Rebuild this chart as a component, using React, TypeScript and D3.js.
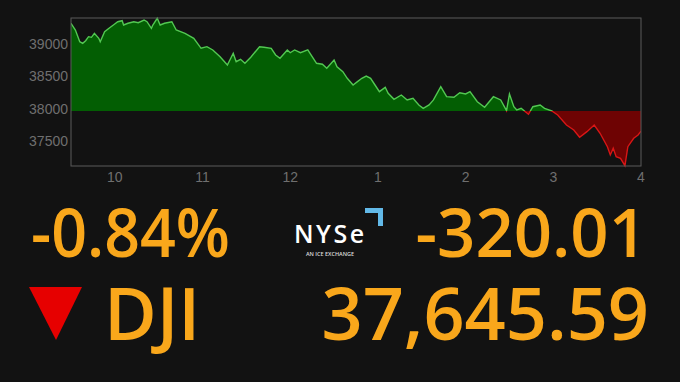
import React from "react";
import * as d3 from "d3";

// minutes after 9:30 open
const minutes = [0,3,6,8,10,12,14,16,19,20,23,26,29,32,35,36,39,43,46,50,52,55,56,59,61,64,69,72,78,84,89,93,97,102,107,111,113,116,119,123,129,132,137,140,143,148,150,153,157,162,165,168,172,175,180,182,186,189,193,196,199,202,205,208,211,215,217,221,226,230,234,238,241,245,248,253,257,262,266,270,273,278,283,289,294,298,300,303,305,308,313,316,321,324,329,333,339,344,348,353,358,362,367,369,371,373,376,379,381,385,388,390];
const values = [39331,39226,39044,39019,39059,39122,39112,39175,39097,39044,39200,39253,39304,39355,39371,39304,39331,39355,39340,39382,39355,39253,39304,39408,39304,39331,39355,39226,39175,39097,38941,38966,38915,38810,38681,38863,38732,38770,38707,38801,38966,38957,38941,38837,38785,38915,38872,38915,38872,38915,38810,38707,38692,38629,38759,38654,38576,38474,38369,38421,38474,38509,38474,38369,38265,38333,38240,38146,38213,38136,38162,38058,38006,38058,38136,38343,38187,38178,38249,38229,38265,38109,38022,38187,38136,37969,38229,38031,37980,38006,37913,38031,38058,38006,37964,37902,37746,37668,37554,37642,37746,37617,37408,37279,37383,37252,37227,37112,37408,37539,37590,37650];
const prevClose = 37965.6;
const yTicks = [37500, 38000, 38500, 39000];
const xTickMinutes = [30, 90, 150, 210, 270, 330, 390];
const xTickLabels = ["10", "11", "12", "1", "2", "3", "4"];
const pctChange = "-0.84%";
const ptsChange = "-320.01";
const symbol = "DJI";
const lastPrice = "37,645.59";

export default function App() {
  const W = 680, H = 382;
  const L = 71, R = 641, T = 18, B = 166;
  const x = d3.scaleLinear().domain([0, 390]).range([L, R]);
  const y = d3.scaleLinear().domain([37107, 39413]).range([B, T]);
  const data = minutes.map((m, i) => ({ m, v: values[i] }));
  const yb = y(prevClose);
  const area = d3.area<{ m: number; v: number }>().x(d => x(d.m)).y0(yb).y1(d => y(d.v));
  const line = d3.line<{ m: number; v: number }>().x(d => x(d.m)).y(d => y(d.v));
  const orange = "#f9a71b";
  const font = "'Open Sans', 'Noto Sans', sans-serif";
  return (
    <svg width={W} height={H} style={{ position: "absolute", left: 0, top: 0, background: "#121212" }}>
      <defs>
        <clipPath id="above"><rect x={L} y={0} width={R - L} height={yb} /></clipPath>
        <clipPath id="below"><rect x={L} y={yb} width={R - L} height={H - yb} /></clipPath>
      </defs>
      <rect x={0} y={0} width={W} height={H} fill="#121212" />
      <g clipPath="url(#above)">
        <path d={area(data) || ""} fill="#035e03" />
        <path d={line(data) || ""} fill="none" stroke="#52c852" strokeWidth={1.4} />
      </g>
      <g clipPath="url(#below)">
        <path d={area(data) || ""} fill="#6e0303" />
        <path d={line(data) || ""} fill="none" stroke="#d81616" strokeWidth={1.4} />
      </g>
      <rect x={L} y={T} width={R - L} height={B - T} fill="none" stroke="#5a5a5a" strokeWidth={1} />
      {yTicks.map(t => (
        <text key={t} x={L - 3} y={y(t)} dy="0.35em" textAnchor="end" fill="#6f6f6f"
          fontSize={14} fontFamily="'Liberation Sans', Arial, sans-serif">{t}</text>
      ))}
      {xTickMinutes.map((m, i) => (
        <text key={m} x={x(m)} y={177} dy="0.35em" textAnchor="middle" fill="#6f6f6f"
          fontSize={14} fontFamily="'Liberation Sans', Arial, sans-serif">{xTickLabels[i]}</text>
      ))}
      <text x={31} y={257} fill={orange} fontSize={67} fontFamily={font} fontWeight={600}
        textLength={199} lengthAdjust="spacingAndGlyphs">{pctChange}</text>
      <text x={647} y={257} textAnchor="end" fill={orange} fontSize={67} fontFamily={font} fontWeight={600}>{ptsChange}</text>
      <path d={d3.line()([[29, 287], [82, 287], [56, 340]]) + "Z"} fill="#e60000" />
      <text x={104} y={340} fill={orange} fontSize={72} fontFamily={font} fontWeight={600}>{symbol}</text>
      <text x={649} y={340} textAnchor="end" fill={orange} fontSize={72} fontFamily={font} fontWeight={600}>{lastPrice}</text>
      <text x={294} y={243} fill="#ffffff" fontSize={25} fontFamily={font} fontWeight={600} letterSpacing={2.5}>
        <tspan>NYS</tspan><tspan>e</tspan>
      </text>
      <path d="M365,210.5 L380.5,210.5 L380.5,226" fill="none" stroke="#62b9e8" strokeWidth={5} />
      <text x={330} y={256} textAnchor="middle" fill="#dddddd" fontSize={5.5} fontFamily={font} fontWeight={600}>AN ICE EXCHANGE</text>
    </svg>
  );
}
